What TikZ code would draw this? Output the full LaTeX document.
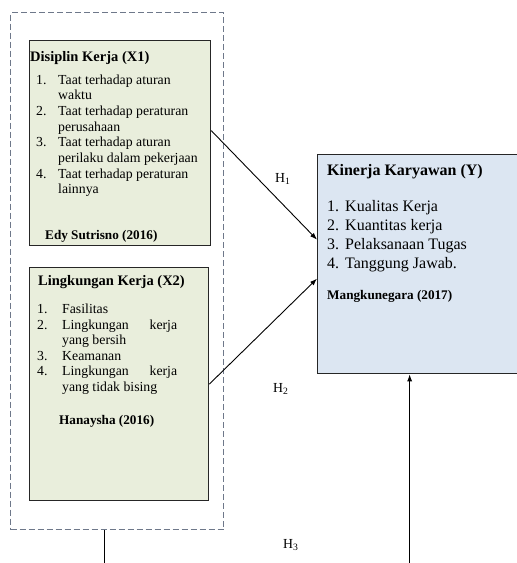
\documentclass[tikz,border=0pt]{standalone}
\usepackage{fontspec}
\setmainfont{Liberation Serif}
\usetikzlibrary{arrows.meta}

\definecolor{boxgreen}{RGB}{233,238,220}
\definecolor{boxblue}{RGB}{220,230,242}
\definecolor{dashgray}{RGB}{110,120,138}

\begin{document}
\begin{tikzpicture}[x=1pt, y=-1pt,
  every node/.style={inner sep=0pt, anchor=base west, font=\fontsize{13.8}{16}\selectfont},
  varbox/.style={draw=black!85, line width=1.3pt, anchor=north west},
  grpbox/.style={draw=dashgray, line width=1.4pt, dash pattern=on 6pt off 3pt, anchor=north west, fill=white},
  reftxt/.style={font=\fontsize{13.2}{16}\selectfont\bfseries},
  ytxt/.style={font=\fontsize{16}{19}\selectfont},
  arr/.style={-{Latex[length=7pt,width=5pt]}, line width=0.9pt}]
  \useasboundingbox (0,0) rectangle (517,563);
  \clip (0,0) rectangle (517,563);

  % boxes
  \node[grpbox, minimum width=213, minimum height=517] (grp) at (10,12) {};
  \node[varbox, fill=boxgreen, minimum width=181, minimum height=205] (x1) at (29,40) {};
  \node[varbox, fill=boxgreen, minimum width=179, minimum height=233] (x2) at (29,267) {};
  \node[varbox, fill=boxblue, minimum width=230, minimum height=219] (kin) at (317,154) {};

  % Disiplin Kerja
  \node[font=\fontsize{14.5}{16}\selectfont\bfseries] (x1title) at (30,61) {Disiplin Kerja (X1)};
  \foreach \y/\n [count=\i] in {84/1., 115.4/2., 146.8/3., 178.2/4.}
    \node (x1n\i) at (36,\y) {\n};
  \foreach \y/\t [count=\i] in {84/Taat terhadap aturan, 99.7/waktu, 115.4/Taat terhadap peraturan,
      131.1/perusahaan, 146.8/Taat terhadap aturan, 162.5/perilaku dalam pekerjaan,
      178.2/Taat terhadap peraturan, 193.9/lainnya}
    \node (x1t\i) at (58,\y) {\t};
  \node[reftxt] (x1ref) at (45,239) {Edy Sutrisno (2016)};

  % Lingkungan Kerja
  \node[font=\fontsize{14.5}{16}\selectfont\bfseries] (x2title) at (38,285) {Lingkungan Kerja (X2)};
  \foreach \y/\n [count=\i] in {313.5/1., 329/2., 360/3., 375.5/4.}
    \node (x2n\i) at (37,\y) {\n};
  \foreach \y/\t [count=\i] in {313.5/Fasilitas, 329/{\hbox to 115pt{Lingkungan\hfill kerja}},
      344.5/yang bersih, 360/Keamanan, 375.5/{\hbox to 115pt{Lingkungan\hfill kerja}},
      391/yang tidak bising}
    \node (x2t\i) at (62,\y) {\t};
  \node[reftxt] (x2ref) at (59,424) {Hanaysha (2016)};

  % Kinerja Karyawan
  \node[ytxt, font=\fontsize{16}{19}\selectfont\bfseries] (ytitle) at (327,175) {Kinerja Karyawan (Y)};
  \foreach \y/\n/\t [count=\i] in {211/1./Kualitas Kerja, 230/2./Kuantitas kerja,
      249/3./Pelaksanaan Tugas, 268/4./Tanggung Jawab.}
    \node[ytxt] (yn\i) at (327,\y) {\n\hspace{6pt}\t};
  \node[reftxt] (yref) at (327,299) {Mangkunegara (2017)};

  % hipotesis
  \node (h1) at (275,182) {H\textsubscript{1}};
  \node (h2) at (273,392) {H\textsubscript{2}};
  \node (h3) at (283,548) {H\textsubscript{3}};

  \draw[arr] ([yshift=12.5]x1.east) -- ([yshift=24.5]kin.west);
  \draw[arr] (x2.east) -- ([yshift=-14.5]kin.west);
  \draw[arr] ([xshift=-12.5]grp.south) -- ++(0,60) -| ([xshift=-23]kin.south);
\end{tikzpicture}
\end{document}
